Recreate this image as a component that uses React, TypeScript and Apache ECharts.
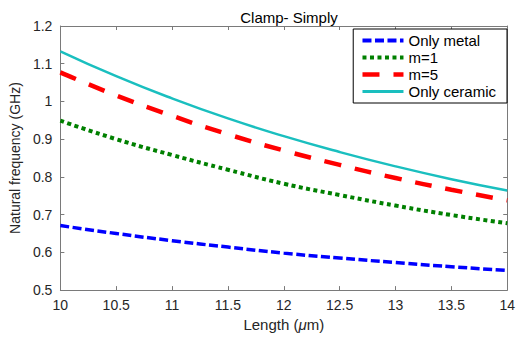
import React, { useEffect, useRef } from "react";
import * as echarts from "echarts";

const lengths = [10, 10.5, 11, 11.5, 12, 12.5, 13, 13.5, 14];
const onlyMetal = [0.671, 0.65, 0.631, 0.614, 0.598, 0.585, 0.573, 0.562, 0.552];
const m1 = [0.949, 0.9, 0.858, 0.819, 0.782, 0.752, 0.724, 0.699, 0.677];
const m5 = [1.077, 1.016, 0.962, 0.913, 0.87, 0.832, 0.797, 0.766, 0.738];
const onlyCeramic = [1.133, 1.067, 1.008, 0.955, 0.908, 0.866, 0.828, 0.794, 0.764];
const seriesNames = ["Only metal", "m=1", "m=5", "Only ceramic"];

const FONT = "Liberation Sans, Arial, sans-serif";
const AXIS_COLOR = "#7a7a7a";
const LABEL_COLOR = "#262626";

export default function App() {
  const ref = useRef<HTMLDivElement>(null);
  useEffect(() => {
    if (!ref.current) return;
    const chart = echarts.init(ref.current, null, { renderer: "svg" });
    const pairs = (ys: number[]) => lengths.map((x, i) => [x, ys[i]]);
    const xCommon = {
      type: "value",
      min: 10,
      max: 14,
      interval: 0.5,
      splitLine: { show: false },
      axisLine: { show: true, lineStyle: { color: AXIS_COLOR, width: 1 } },
      axisTick: { show: true, inside: true, length: 4, lineStyle: { color: AXIS_COLOR } },
    };
    const yCommon = {
      type: "value",
      min: 0.5,
      max: 1.2,
      interval: 0.1,
      splitLine: { show: false },
      axisLine: { show: true, lineStyle: { color: AXIS_COLOR, width: 1 } },
      axisTick: { show: true, inside: true, length: 4, lineStyle: { color: AXIS_COLOR } },
    };
    const legendWidths = [4, 4, 4.5, 3];
    chart.setOption({
      animation: false,
      backgroundColor: "#ffffff",
      title: {
        text: "Clamp- Simply",
        left: 284,
        textAlign: "center",
        top: 5,
        textStyle: { fontFamily: FONT, fontSize: 15, fontWeight: "normal", color: "#000" },
      },
      grid: { left: 58, right: 8, top: 26, bottom: 42 },
      legend: {
        data: seriesNames.map((name, i) => ({ name, lineStyle: { width: legendWidths[i] } })),
        orient: "vertical",
        right: 11,
        top: 29,
        padding: [3, 11, 3, 7],
        itemGap: 0,
        itemWidth: 41,
        itemHeight: 17,
        borderColor: "#000",
        borderWidth: 1,
        backgroundColor: "#fff",
        itemStyle: { opacity: 0 },
        textStyle: { fontFamily: FONT, fontSize: 15, color: "#000", lineHeight: 17 },
      },
      xAxis: [
        {
          ...xCommon,
          position: "bottom",
          name: "Length ({i|μ}m)",
          nameLocation: "middle",
          nameGap: 22,
          nameTextStyle: {
            fontFamily: FONT,
            fontSize: 15,
            color: LABEL_COLOR,
            rich: { i: { fontFamily: FONT, fontSize: 15, fontStyle: "italic", color: LABEL_COLOR } },
          },
          axisLabel: { fontFamily: FONT, fontSize: 14, color: LABEL_COLOR, margin: 8 },
        },
        {
          ...xCommon,
          position: "top",
          axisLabel: { show: false },
        },
      ],
      yAxis: [
        {
          ...yCommon,
          position: "left",
          name: "Natural frequency (GHz)",
          nameLocation: "middle",
          nameGap: 37,
          nameTextStyle: { fontFamily: FONT, fontSize: 14, color: LABEL_COLOR },
          axisLabel: { fontFamily: FONT, fontSize: 14, color: LABEL_COLOR, margin: 8 },
        },
        {
          ...yCommon,
          position: "right",
          axisLabel: { show: false },
        },
      ],
      series: [
        {
          name: "Only metal",
          type: "line",
          data: pairs(onlyMetal),
          smooth: true,
          symbol: "none",
          lineStyle: { color: "#0000ff", width: 3.5, type: [9, 3.5] },
          itemStyle: { color: "#0000ff" },
        },
        {
          name: "m=1",
          type: "line",
          data: pairs(m1),
          smooth: true,
          symbol: "none",
          lineStyle: { color: "#008000", width: 4, type: [4, 3.5] },
          itemStyle: { color: "#008000" },
        },
        {
          name: "m=5",
          type: "line",
          data: pairs(m5),
          smooth: true,
          symbol: "none",
          lineStyle: { color: "#ff0000", width: 4.5, type: [17, 14] },
          itemStyle: { color: "#ff0000" },
        },
        {
          name: "Only ceramic",
          type: "line",
          data: pairs(onlyCeramic),
          smooth: true,
          symbol: "none",
          lineStyle: { color: "#1abfbf", width: 2.5 },
          itemStyle: { color: "#1abfbf" },
        },
      ],
    });
    return () => chart.dispose();
  }, []);
  return (
    <div
      ref={ref}
      style={{ position: "fixed", left: 0, top: 0, width: 518, height: 337, background: "#fff" }}
    />
  );
}
